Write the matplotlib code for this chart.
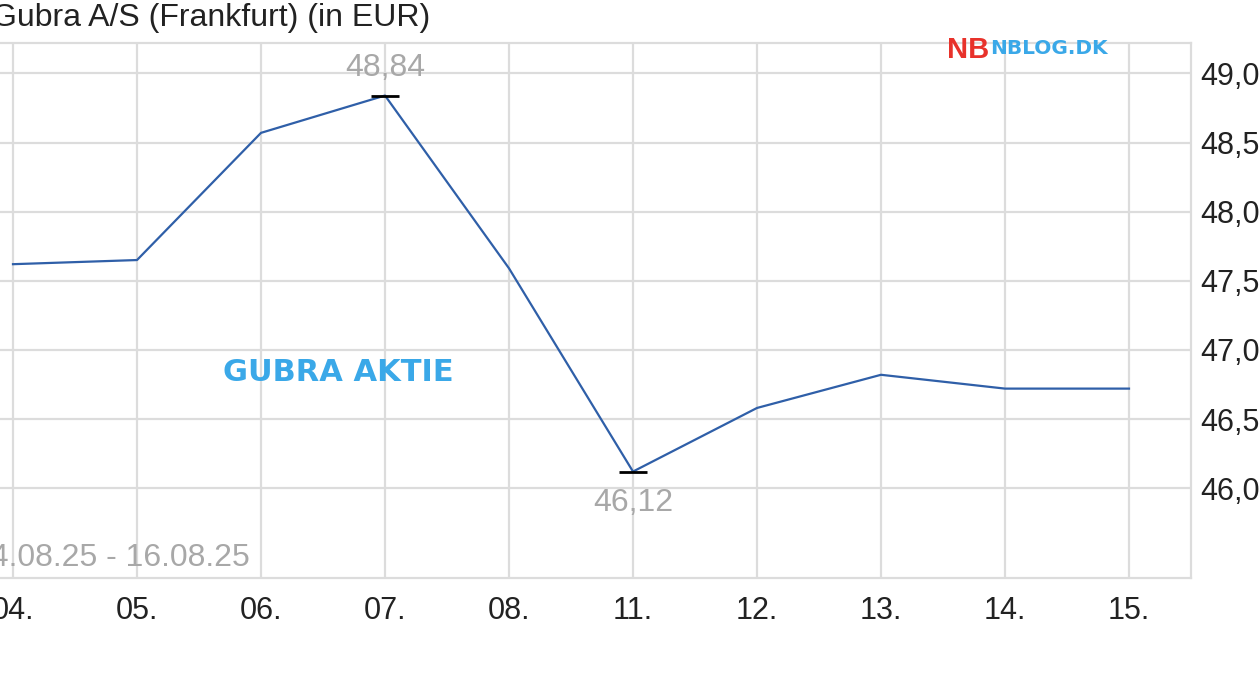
import matplotlib
matplotlib.use("Agg")
from matplotlib import pyplot as plt

# data
days = ["04.", "05.", "06.", "07.", "08.", "11.", "12.", "13.", "14.", "15."]
prices = [47.62, 47.65, 48.57, 48.84, 47.59, 46.12, 46.58, 46.82, 46.72, 46.72]
y_ticks = [46.0, 46.5, 47.0, 47.5, 48.0, 48.5, 49.0]
y_labels = ["46,0", "46,5", "47,0", "47,5", "48,0", "48,5", "49,0"]
hi_idx, lo_idx = 3, 5

plt.rcParams['font.family'] = ['Liberation Sans', 'DejaVu Sans']

fig = plt.figure(figsize=(12.6, 6.8), dpi=100)
ax = fig.add_axes([-49 / 1260, 102 / 680, 1240 / 1260, 535 / 680])

x = list(range(len(days)))
ax.plot(x, prices, color="#2f5fa8", linewidth=1.6, zorder=3)

# markers for max / min
ax.plot([x[hi_idx]], [prices[hi_idx]], marker="_", markersize=20, mew=2, color="black", zorder=4)
ax.plot([x[lo_idx]], [prices[lo_idx]], marker="_", markersize=20, mew=2, color="black", zorder=4)
ax.annotate(f"{prices[hi_idx]:.2f}".replace(".", ","), (x[hi_idx], prices[hi_idx]),
            xytext=(0, 28), textcoords="offset pixels", ha="center", va="center",
            fontsize=23, color="#a8a8a8", zorder=5)
ax.annotate(f"{prices[lo_idx]:.2f}".replace(".", ","), (x[lo_idx], prices[lo_idx]),
            xytext=(0, -31), textcoords="offset pixels", ha="center", va="center",
            fontsize=23, color="#a8a8a8", zorder=5)

ax.set_xlim(-0.5, 9.5)
ax.set_ylim(45.35, 49.22)
ax.set_xticks(x)
ax.set_xticklabels(days)
ax.set_yticks(y_ticks)
ax.set_yticklabels(y_labels)
ax.yaxis.tick_right()
ax.tick_params(axis="both", length=0, labelsize=22, colors="#222222")
ax.tick_params(axis="x", pad=13)
ax.tick_params(axis="y", pad=7)

ax.grid(True, color="#dcdcdc", linewidth=1.6)
ax.set_axisbelow(True)
for s in ax.spines.values():
    s.set_color("#dcdcdc")
    s.set_linewidth(1.6)

fig.text(-8 / 1260, 1 - 18 / 680, "Gubra A/S (Frankfurt) (in EUR)", fontsize=23,
         color="#222222", ha="left", va="center")
fig.text(250 / 1260, 1 - 558 / 680, "04.08.25 - 16.08.25", fontsize=23, color="#a8a8a8",
         ha="right", va="center")

# watermarks
fig.text(223 / 1260, 1 - 372 / 680, "GUBRA AKTIE", fontsize=22, fontweight="bold",
         family="DejaVu Sans", color="#3aa8e8", ha="left", va="center")
fig.text(947 / 1260, 1 - 50 / 680, "NB", fontsize=21, fontweight="bold",
         family="Liberation Sans", color="#e8322b", ha="left", va="center")
fig.text(990 / 1260, 1 - 48 / 680, "NBLOG.DK", fontsize=14.5, fontweight="bold",
         family="DejaVu Sans", color="#3aa8e8", ha="left", va="center")

fig.savefig("out.png", dpi=100)
